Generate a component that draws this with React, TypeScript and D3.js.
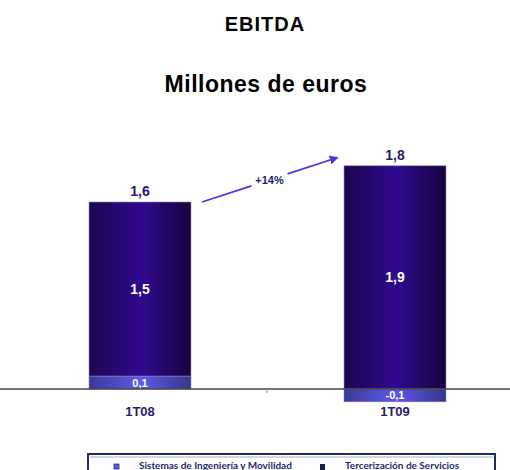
import React from "react";
import * as d3 from "d3";

const categories = ["1T08", "1T09"];
const sistemas = [0.11, -0.11];
const tercerizacion = [1.49, 1.91];
const growthLabel = "+14%";
const legendLabels = ["Sistemas de Ingeniería y Movilidad", "Tercerización de Servicios"];

const W = 510;
const H = 470;

const fmt = (v: number) => d3.format(".1f")(v).replace(".", ",").replace("\u2212", "-");

export default function App() {
  const x = d3.scaleBand<string>().domain(categories).range([12.5, 522.5]).paddingInner(0.6).paddingOuter(0.3);
  const y = d3.scaleLinear().domain([0, 1.6]).range([389, 202]);
  const bw = x.bandwidth();

  const bars = categories.map((c, i) => {
    const s = sistemas[i];
    const t = tercerizacion[i];
    const x0 = x(c) as number;
    const sTop = s >= 0 ? y(s) : y(0);
    const sBot = s >= 0 ? y(0) : y(s);
    const tBase = s >= 0 ? s : 0;
    const tTop = y(tBase + t);
    const tBot = y(tBase);
    return { c, x0, s, t, total: s + t, sTop, sBot, tTop, tBot };
  });

  const b0 = bars[0];
  const b1 = bars[1];
  const ax0 = b0.x0 + bw + 11;
  const ay0 = b0.tTop;
  const ax1 = b1.x0 - 7;
  const ay1 = b1.tTop - 8;
  const mx = (ax0 + ax1) / 2;
  const my = (ay0 + ay1) / 2;
  const gapHalf = 19;
  const dx = ax1 - ax0;
  const dy = ay1 - ay0;
  const len = Math.hypot(dx, dy);
  const ux = dx / len;
  const uy = dy / len;

  const navy = "#2a1a6e";
  const legNavy = "#1c2d6b";

  return (
    <svg width={W} height={H} style={{ position: "absolute", left: 0, top: 0 }} fontFamily="'Liberation Sans', Arial, sans-serif">
      <defs>
        <linearGradient id="gMain" x1="0" x2="1" y1="0" y2="0">
          <stop offset="0" stopColor="#1c0550" />
          <stop offset="0.5" stopColor="#30098e" />
          <stop offset="1" stopColor="#170340" />
        </linearGradient>
        <linearGradient id="gSub" x1="0" x2="1" y1="0" y2="0">
          <stop offset="0" stopColor="#3b3896" />
          <stop offset="0.5" stopColor="#5c5ae8" />
          <stop offset="1" stopColor="#38368c" />
        </linearGradient>
        <marker id="arr" viewBox="0 0 10 10" refX="8" refY="5" markerWidth="5" markerHeight="5" orient="auto">
          <path d="M0,0 L10,5 L0,10 z" fill="#5a2ee4" />
        </marker>
      </defs>
      <rect width={W} height={H} fill="#fff" />
      <text x={265} y={31} textAnchor="middle" fontSize={20} letterSpacing={1} fontWeight="bold" fill="#000">EBITDA</text>
      <text x={266} y={92} textAnchor="middle" fontSize={23} letterSpacing={0.5} fontWeight="bold" fill="#000">Millones de euros</text>

      {bars.map((b) => (
        <g key={b.c}>
          <rect x={b.x0} y={b.tTop} width={bw} height={b.tBot - b.tTop} fill="url(#gMain)" stroke="#9a90c0" strokeWidth={0.6} />
          <rect x={b.x0} y={b.sTop} width={bw} height={b.sBot - b.sTop} fill="url(#gSub)" stroke="#8a88c8" strokeWidth={0.5} />
          <text x={b.x0 + bw / 2} y={(b.tTop + b.tBot) / 2 + 5} textAnchor="middle" fontSize={14} fontWeight="bold" fill="#fff">{fmt(b.t)}</text>
          <text x={b.x0 + bw / 2} y={(b.sTop + b.sBot) / 2 + 4} textAnchor="middle" fontSize={11} fontWeight="bold" fill="#fff">{fmt(b.s)}</text>
          <text x={b.x0 + bw / 2} y={b.tTop - 6} textAnchor="middle" fontSize={14} fontWeight="bold" fill={navy}>{fmt(b.total)}</text>
          <text x={b.x0 + bw / 2} y={416} textAnchor="middle" fontSize={13} fontWeight="bold" fill={navy}>{b.c}</text>
        </g>
      ))}

      <line x1={0} x2={W} y1={y(0)} y2={y(0)} stroke="#444" strokeWidth={1.5} />
      <line x1={267} x2={267} y1={y(0)} y2={y(0) + 4} stroke="#888" strokeWidth={1} />

      <line x1={ax0} y1={ay0} x2={mx - ux * gapHalf} y2={my - uy * gapHalf} stroke="#5a2ee4" strokeWidth={1.8} />
      <line x1={mx + ux * gapHalf} y1={my + uy * gapHalf} x2={ax1} y2={ay1} stroke="#5a2ee4" strokeWidth={1.8} markerEnd="url(#arr)" />
      <text x={mx} y={my + 4} textAnchor="middle" fontSize={11} fontWeight="bold" fill={navy}>{growthLabel}</text>

      <rect x={88} y={454} width={407} height={20} fill="#fff" stroke={legNavy} strokeWidth={2} />
      <line x1={90} x2={493} y1={457} y2={457} stroke="#999" strokeWidth={0.8} />
      <rect x={114} y={464} width={5} height={5} fill="#5a5ae8" stroke="#2a2a80" strokeWidth={0.8} />
      <text x={139} y={469} fontSize={10} fontWeight="bold" fill={legNavy} fontFamily="Lato, 'Open Sans', sans-serif">{legendLabels[0]}</text>
      <rect x={320} y={464} width={5} height={6} fill="#1c1c48" />
      <text x={345} y={469} fontSize={10} fontWeight="bold" fill={legNavy} fontFamily="Lato, 'Open Sans', sans-serif">{legendLabels[1]}</text>
    </svg>
  );
}
